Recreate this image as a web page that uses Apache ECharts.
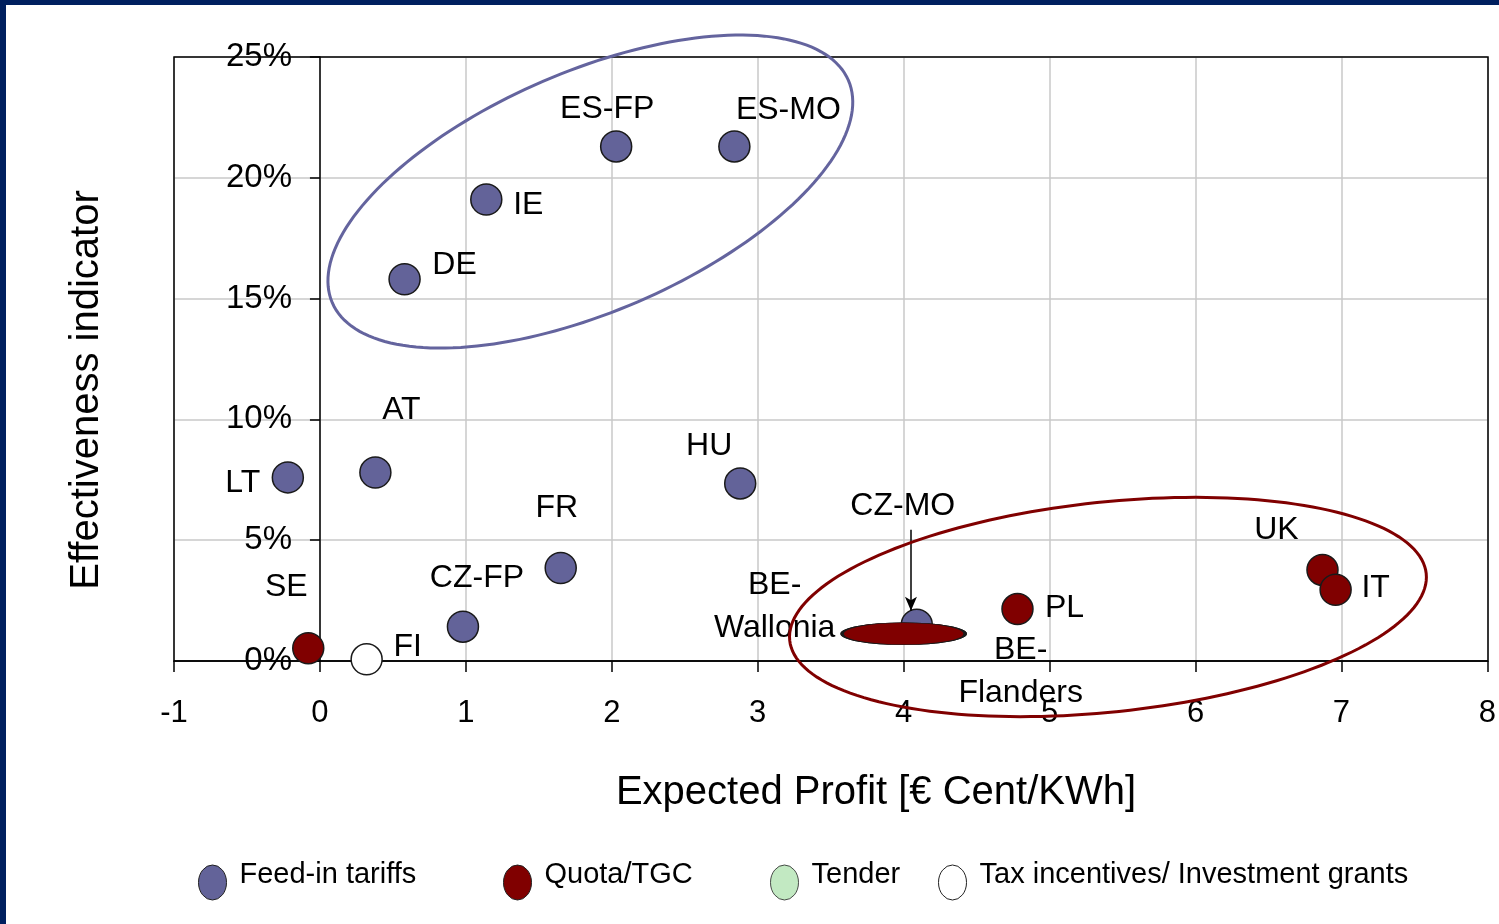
<!DOCTYPE html>
<html>
<head>
<meta charset="utf-8">
<script src="https://cdn.jsdelivr.net/npm/echarts@6/dist/echarts.min.js"></script>
<style>
  html, body { margin: 0; padding: 0; background: #ffffff; }
  #chart { width: 1499px; height: 924px; }
</style>
</head>
<body>
<div id="chart"></div>
<script>
// ---- data: expected profit (€ cent/kWh) vs effectiveness indicator (%) ----
const feedInNames  = ['LT', 'AT', 'FR', 'CZ-FP', 'DE', 'IE', 'ES-FP', 'ES-MO', 'HU', 'CZ-MO'];
const feedInProfit = [-0.22, 0.38, 1.65, 0.98, 0.58, 1.14, 2.03, 2.84, 2.88, 4.09];
const feedInEffect = [7.6, 7.8, 3.85, 1.42, 15.8, 19.1, 21.3, 21.3, 7.35, 1.5];

const quotaNames  = ['SE', 'BE-Wallonia', 'BE-Flanders', 'PL', 'UK', 'IT'];
const quotaProfit = [-0.08, 4.0, 4.0, 4.78, 6.87, 6.96];
const quotaEffect = [0.53, 1.13, 1.13, 2.15, 3.77, 2.95];

const tenderNames  = [];
const tenderProfit = [];
const tenderEffect = [];

const taxNames  = ['FI'];
const taxProfit = [0.32];
const taxEffect = [0.07];

const seriesNames = ['Feed-in tariffs', 'Quota/TGC', 'Tender', 'Tax incentives/ Investment grants'];

// axis ranges and tick labels
const xMin = -1, xMax = 8, xStep = 1;
const yMin = 0, yMax = 25, yStep = 5;
const yTickLabels = ['0%', '5%', '10%', '15%', '20%', '25%'];

// ---- styles ----
const FONT = '"Liberation Sans", Arial, sans-serif';
const colors = ['#636399', '#800000', '#b3e3b3', '#ffffff'];
const ellipsePath = 'path://M0,50A50,50,0,1,1,100,50A50,50,0,1,1,0,50Z';

// label offsets (px) from each marker centre
const labelOffsets = {
  'LT': [-45, 6], 'AT': [26, -62], 'FR': [-4, -60], 'CZ-FP': [14, -49],
  'DE': [50, -14], 'IE': [42, 6], 'ES-FP': [-9, -37], 'ES-MO': [54, -36],
  'HU': [-31, -37], 'CZ-MO': [-14, -119],
  'SE': [-22, -61], 'PL': [47, -1], 'UK': [-46, -40], 'IT': [40, -2],
  'BE-Wallonia': [-129, -27], 'BE-Flanders': [117, 38],
  'FI': [41, -12]
};
const labelText = {
  'BE-Wallonia': 'BE-\nWallonia',
  'BE-Flanders': 'BE-\nFlanders'
};
// the two Belgian schemes are drawn as one flattened marker
const flatMarker = { 'BE-Wallonia': [123, 22], 'BE-Flanders': [123, 22] };

const pointLabel = {
  show: true, position: 'inside',
  color: '#000', fontFamily: FONT, fontSize: 32, lineHeight: 43,
  align: 'center', verticalAlign: 'middle', textBorderWidth: 0
};

function buildPoints(names, xs, ys) {
  return names.map((n, i) => {
    const item = {
      name: n,
      value: [xs[i], ys[i]],
      label: Object.assign({}, pointLabel, {
        offset: labelOffsets[n] || [0, -30],
        formatter: labelText[n] || n
      })
    };
    if (flatMarker[n]) {
      item.symbol = ellipsePath;
      item.symbolSize = flatMarker[n];
    }
    return item;
  });
}

// group outlines (centre in data units, radii in px, tilt in degrees)
const groupOutlines = [
  { center: [1.853, 19.43], rx: 281, ry: 120, tilt: 23.3, color: '#64649e' },
  { center: [5.40, 2.235], rx: 320, ry: 105, tilt: 6, color: '#800000' }
];

// CZ-MO pointer arrow, derived from the CZ-MO point
const czIdx = feedInNames.indexOf('CZ-MO');
const czX = feedInProfit[czIdx] - 0.04;
const czY = feedInEffect[czIdx];

const legendLeft = [193, 498, 765, 933];

const GRID = { left: 174, right: 11, top: 57, bottom: 263 };

const chart = echarts.init(document.getElementById('chart'), null, { renderer: 'canvas' });

chart.setOption({
  animation: false,
  backgroundColor: '#ffffff',
  textStyle: { fontFamily: FONT },
  grid: Object.assign({ show: false }, GRID),
  xAxis: {
    type: 'value', min: xMin, max: xMax, interval: xStep,
    axisLine: { show: true, lineStyle: { color: '#000', width: 1.5 } },
    axisTick: { show: true, length: 11, lineStyle: { color: '#000', width: 1.5 } },
    axisLabel: { color: '#000', fontSize: 31, fontFamily: FONT, margin: 37 },
    splitLine: { show: true, lineStyle: { color: '#c8c8c8', width: 1.5 } }
  },
  yAxis: {
    type: 'value', min: yMin, max: yMax, interval: yStep,
    axisLine: { show: true, onZero: true, lineStyle: { color: '#000', width: 1.5 } },
    axisTick: { show: true, length: 10, lineStyle: { color: '#000', width: 1.5 } },
    axisLabel: {
      color: '#000', fontSize: 33, fontFamily: FONT, margin: -118,
      formatter: v => yTickLabels[Math.round((v - yMin) / yStep)]
    },
    splitLine: { show: true, lineStyle: { color: '#c8c8c8', width: 1.5 } }
  },
  legend: seriesNames.map((name, i) => ({
    data: [name],
    left: legendLeft[i], top: 855,
    itemWidth: 28, itemHeight: 35,
    icon: ellipsePath,
    symbolKeepAspect: false,
    selectedMode: false,
    itemStyle: { borderColor: '#222', borderWidth: 1 },
    formatter: '{t|{name}}',
    textStyle: {
      color: '#000', fontSize: 29, fontFamily: FONT,
      rich: { t: { color: '#000', fontSize: 29, fontFamily: FONT, padding: [0, 0, 16, 8] } }
    }
  })),
  graphic: [
    // plot frame
    {
      type: 'rect', z: 2, silent: true,
      shape: { x: GRID.left, y: GRID.top, width: 1499 - GRID.left - GRID.right, height: 924 - GRID.top - GRID.bottom },
      style: { fill: null, stroke: '#000', lineWidth: 1.5 }
    },
    { type: 'rect', left: 0, top: 0, z: 100, shape: { width: 6, height: 924 }, style: { fill: '#00205f' } },
    { type: 'rect', left: 0, top: 0, z: 100, shape: { width: 1499, height: 5 }, style: { fill: '#00205f' } },
    {
      type: 'text', x: 876, y: 793,
      style: { text: 'Expected Profit [€ Cent/KWh]', font: '40px ' + FONT, fill: '#000', align: 'center', verticalAlign: 'middle' }
    },
    {
      type: 'text', x: 87, y: 390, rotation: Math.PI / 2,
      style: { text: 'Effectiveness indicator', font: '40px ' + FONT, fill: '#000', align: 'center', verticalAlign: 'middle' }
    }
  ],
  series: [
    {
      name: seriesNames[0], type: 'scatter', symbol: 'circle', symbolSize: 31, z: 3,
      itemStyle: { color: colors[0], borderColor: '#1a1a1a', borderWidth: 1.5, opacity: 1 },
      label: pointLabel,
      data: buildPoints(feedInNames, feedInProfit, feedInEffect),
      markLine: {
        silent: true, symbol: ['none', 'arrow'], symbolSize: [9, 14],
        lineStyle: { color: '#000', width: 1.5, type: 'solid' },
        label: { show: false },
        data: [[{ coord: [czX, czY + 3.93] }, { coord: [czX, czY + 0.58] }]]
      }
    },
    {
      name: seriesNames[1], type: 'scatter', symbol: 'circle', symbolSize: 31, z: 4,
      itemStyle: { color: colors[1], borderColor: '#1a1a1a', borderWidth: 1.5, opacity: 1 },
      label: pointLabel,
      data: buildPoints(quotaNames, quotaProfit, quotaEffect)
    },
    {
      name: seriesNames[2], type: 'scatter', symbol: 'circle', symbolSize: 31, z: 4,
      itemStyle: { color: colors[2], borderColor: '#1a1a1a', borderWidth: 1.5 },
      label: pointLabel,
      data: buildPoints(tenderNames, tenderProfit, tenderEffect)
    },
    {
      name: seriesNames[3], type: 'scatter', symbol: 'circle', symbolSize: 31, z: 4,
      itemStyle: { color: colors[3], borderColor: '#1a1a1a', borderWidth: 1.5, opacity: 1 },
      label: pointLabel,
      data: buildPoints(taxNames, taxProfit, taxEffect)
    },
    {
      name: 'outlines', type: 'custom', coordinateSystem: 'cartesian2d', clip: false, silent: true, z: 5,
      data: groupOutlines.map(g => g.center),
      renderItem: function (params, api) {
        const g = groupOutlines[params.dataIndex];
        const c = api.coord([api.value(0), api.value(1)]);
        const th = g.tilt * Math.PI / 180;
        const pts = [];
        for (let k = 0; k <= 180; k++) {
          const t = k / 180 * Math.PI * 2;
          const ex = g.rx * Math.cos(t), ey = g.ry * Math.sin(t);
          pts.push([c[0] + ex * Math.cos(th) - ey * Math.sin(th),
                    c[1] - (ex * Math.sin(th) + ey * Math.cos(th))]);
        }
        return {
          type: 'polygon', shape: { points: pts },
          style: { fill: null, stroke: g.color, lineWidth: 3 }
        };
      }
    }
  ]
});
</script>
</body>
</html>
